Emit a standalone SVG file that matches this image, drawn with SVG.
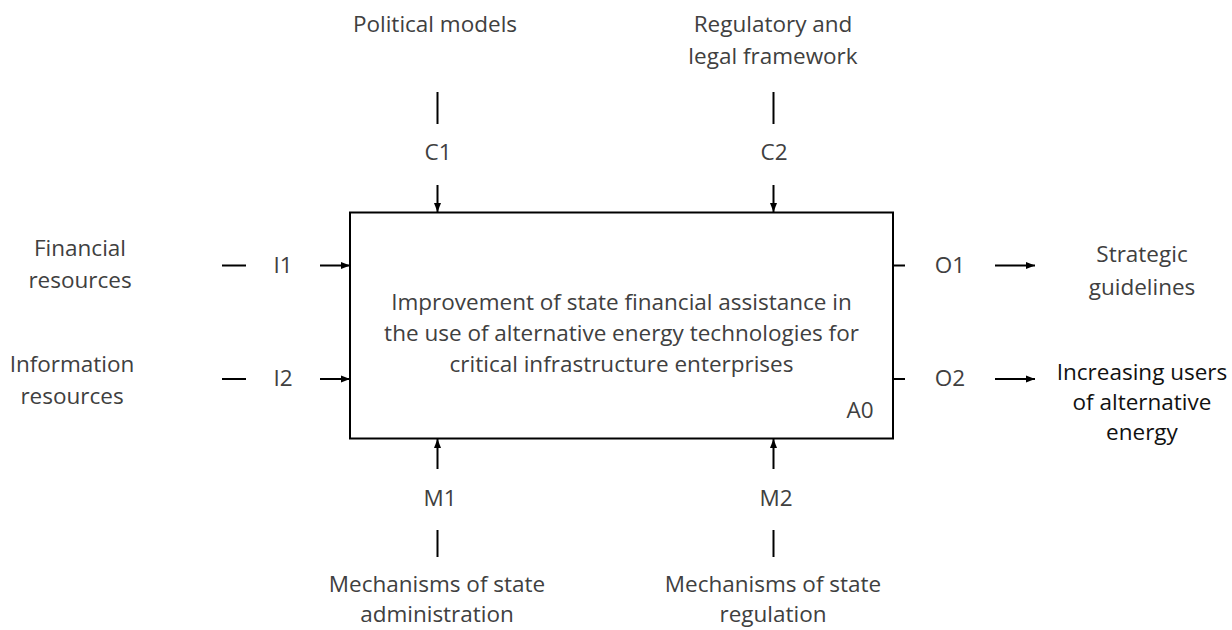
<svg xmlns="http://www.w3.org/2000/svg" width="1232" height="630" viewBox="0 0 1232 630">
<style>
text{font-family:"Open Sans","Noto Sans","Liberation Sans",sans-serif;font-size:22.5px;fill:#404040;text-anchor:middle}
.dark{fill:#111}
.ln{stroke:#000;stroke-width:2;fill:none}
.ar{stroke:#000;stroke-width:2;fill:none;marker-end:url(#ah)}
</style>
<defs>
<marker id="ah" markerUnits="userSpaceOnUse" markerWidth="10" markerHeight="8" refX="9" refY="4" orient="auto">
<path d="M0,0.5 L9,4 L0,7.5 z" fill="#000"/>
</marker>
</defs>
<rect width="1232" height="630" fill="#fff"/>
<g id="A0">
<rect class="ln" x="350" y="212.5" width="543" height="226"/>
<text x="621.5" y="310">Improvement of state financial assistance in</text>
<text x="621.5" y="341">the use of alternative energy technologies for</text>
<text x="621.5" y="372">critical infrastructure enterprises</text>
<text x="860" y="418">A0</text>
</g>
<g id="connectors">
<line class="ln" x1="437.5" y1="92" x2="437.5" y2="124"/>
<line class="ar" x1="437.5" y1="185" x2="437.5" y2="212"/>
<line class="ln" x1="773.5" y1="92" x2="773.5" y2="124"/>
<line class="ar" x1="773.5" y1="185" x2="773.5" y2="212"/>
<line class="ln" x1="222" y1="265.5" x2="246" y2="265.5"/>
<line class="ar" x1="320" y1="265.5" x2="350" y2="265.5"/>
<line class="ln" x1="222" y1="379" x2="246" y2="379"/>
<line class="ar" x1="320" y1="379" x2="350" y2="379"/>
<line class="ln" x1="893" y1="265.5" x2="905" y2="265.5"/>
<line class="ar" x1="995" y1="265.5" x2="1035" y2="265.5"/>
<line class="ln" x1="893" y1="379" x2="905" y2="379"/>
<line class="ar" x1="995" y1="379" x2="1035" y2="379"/>
<line class="ar" x1="437.5" y1="469" x2="437.5" y2="439"/>
<line class="ln" x1="437.5" y1="530" x2="437.5" y2="557"/>
<line class="ar" x1="773.5" y1="469" x2="773.5" y2="439"/>
<line class="ln" x1="773.5" y1="530" x2="773.5" y2="557"/>
<text x="438" y="160">C1</text>
<text x="774" y="160">C2</text>
<text x="283" y="273">I1</text>
<text x="283" y="386">I2</text>
<text x="950" y="273">O1</text>
<text x="950" y="386">O2</text>
<text x="440" y="506">M1</text>
<text x="776" y="506">M2</text>
</g>
<g id="control-political">
<text x="435" y="32">Political models</text>
</g>
<g id="control-regulatory">
<text x="773" y="32">Regulatory and</text>
<text x="773" y="64">legal framework</text>
</g>
<g id="input-financial">
<text x="80" y="256">Financial</text>
<text x="80" y="288">resources</text>
</g>
<g id="input-information">
<text x="72" y="372">Information</text>
<text x="72" y="404">resources</text>
</g>
<g id="output-strategic">
<text x="1142" y="262">Strategic</text>
<text x="1142" y="295">guidelines</text>
</g>
<g id="output-users">
<text class="dark" x="1142" y="380">Increasing users</text>
<text class="dark" x="1142" y="410">of alternative</text>
<text class="dark" x="1142" y="440">energy</text>
</g>
<g id="mech-admin">
<text x="437" y="592">Mechanisms of state</text>
<text x="437" y="622">administration</text>
</g>
<g id="mech-regulation">
<text x="773" y="592">Mechanisms of state</text>
<text x="773" y="622">regulation</text>
</g>
</svg>
